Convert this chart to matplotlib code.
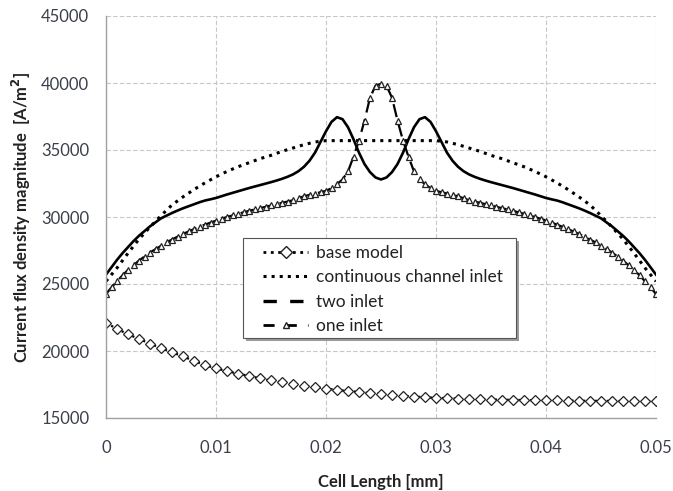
import matplotlib
matplotlib.use("Agg")
import matplotlib.pyplot as plt
from matplotlib.lines import Line2D
from matplotlib.patches import Rectangle
import numpy as np

# base model, step 0.001 mm
x_base = np.round(np.arange(0, 51) * 0.001, 4)
base_model = [22100, 21650, 21250, 20900, 20550, 20200, 19900, 19600, 19250, 18950,
              18700, 18500, 18300, 18150, 17950, 17800, 17650, 17550, 17400, 17300,
              17200, 17100, 17000, 16950, 16850, 16800, 16750, 16650, 16600, 16550,
              16500, 16480, 16450, 16420, 16400, 16380, 16370, 16350, 16340, 16330,
              16320, 16310, 16300, 16290, 16280, 16280, 16270, 16270, 16260, 16260,
              16250]

# continuous channel inlet, step 0.001 mm
continuous = [25200, 26200, 27300, 28350, 29250, 30100, 30900, 31500, 32050, 32550,
              33000, 33400, 33750, 34050, 34350, 34600, 34900, 35150, 35400, 35600,
              35700, 35700, 35700, 35700, 35700, 35700, 35700, 35700, 35700, 35700,
              35700, 35600, 35400, 35150, 34900, 34600, 34350, 34050, 33750, 33400,
              33000, 32550, 32050, 31500, 30900, 30100, 29250, 28350, 27300, 26200,
              25200]

# two inlet / one inlet, step 0.0005 mm
x_fine = np.round(np.arange(0, 101) * 0.0005, 5)
two_inlet = [25700, 26250, 26800, 27300, 27750, 28200, 28600, 28950, 29300, 29600,
             29900, 30100, 30300, 30480, 30650, 30800, 30950, 31100, 31230, 31320,
             31420, 31550, 31680, 31800, 31920, 32040, 32160, 32270, 32380, 32490,
             32600, 32720, 32850, 33000, 33180, 33420, 33750, 34200, 34800, 35600,
             36400, 37100, 37450, 37300, 36700, 35800, 34800, 33950, 33350, 32950,
             32800,
             32950, 33350, 33950, 34800, 35800, 36700, 37300, 37450, 37100, 36400,
             35600, 34800, 34200, 33750, 33420, 33180, 33000, 32850, 32720, 32600,
             32490, 32380, 32270, 32160, 32040, 31920, 31800, 31680, 31550, 31420,
             31320, 31230, 31100, 30950, 30800, 30650, 30480, 30300, 30100, 29900,
             29600, 29300, 28950, 28600, 28200, 27750, 27300, 26800, 26250, 25700]
one_inlet = [24250, 24750, 25200, 25650, 26050, 26400, 26750, 27050, 27350, 27600,
             27850, 28100, 28320, 28530, 28730, 28920, 29100, 29270, 29430, 29580,
             29730, 29870, 30000, 30120, 30240, 30350, 30460, 30560, 30660, 30760,
             30860, 30960, 31060, 31150, 31250, 31400, 31550, 31650, 31750, 31850,
             31950, 32150, 32450, 32800, 33400, 34500, 35700, 37200, 38900, 39800,
             39950,
             39800, 38900, 37200, 35700, 34500, 33400, 32800, 32450, 32150, 31950,
             31850, 31750, 31650, 31550, 31400, 31250, 31150, 31060, 30960, 30860,
             30760, 30660, 30560, 30460, 30350, 30240, 30120, 30000, 29870, 29730,
             29580, 29430, 29270, 29100, 28920, 28730, 28530, 28320, 28100, 27850,
             27600, 27350, 27050, 26750, 26400, 26050, 25650, 25200, 24750, 24250]

x_ticks = [0, 0.01, 0.02, 0.03, 0.04, 0.05]
x_tick_labels = ["0", "0.01", "0.02", "0.03", "0.04", "0.05"]
y_ticks = [15000, 20000, 25000, 30000, 35000, 40000, 45000]

plt.rcParams['font.family'] = ['Lato', 'DejaVu Sans']
txt_col = '#3a3f4a'

fig = plt.figure(figsize=(6.73, 4.91), dpi=100)
ax = fig.add_axes([106 / 673, 73 / 491, 550 / 673, 402 / 491])

ax.plot(x_base, base_model, color='black', linestyle=':', linewidth=1.6,
        marker='D', markersize=5.5, markerfacecolor='white', markeredgecolor='#222222',
        markeredgewidth=0.9)
ax.plot(x_base, continuous, color='black', linestyle=':', linewidth=2.2)
ax.plot(x_fine, two_inlet, color='black', linestyle='-', linewidth=1.9)
ax.plot(x_fine, one_inlet, color='black', linestyle=(0, (6, 3)), linewidth=1.6,
        marker='^', markersize=4.5, markerfacecolor='white', markeredgecolor='#222222',
        markeredgewidth=0.9)

ax.set_xlim(0, 0.05)
ax.set_ylim(15000, 45000)
ax.set_xticks(x_ticks)
ax.set_xticklabels(x_tick_labels)
ax.set_yticks(y_ticks)
ax.tick_params(length=0, labelsize=12, colors=txt_col)
ax.tick_params(axis='x', pad=15.5)
ax.tick_params(axis='y', pad=12)
ax.grid(True, color='#c8c8c8', linestyle=(0, (4, 2)), linewidth=0.8)
ax.set_axisbelow(True)
for s in ['top', 'right']:
    ax.spines[s].set_visible(False)
for s in ['left', 'bottom']:
    ax.spines[s].set_color('#a0a0a0')
    ax.spines[s].set_linewidth(1.0)

ax.set_xlabel('Cell Length [mm]', fontsize=12, fontweight='bold', color='#222222',
              va='center')
ax.xaxis.set_label_coords(0.5, -(482 - 418) / 402)
ax.set_ylabel('Current flux density magnitude  [A/m$^\\mathbf{2}$]', fontsize=12,
              fontweight='bold', color='#222222', va='center')
ax.yaxis.set_label_coords(-(106 - 21) / 550, 0.5)

# legend box with shadow, drawn separately so the handles sit indented like the original
fx0, fx1 = (243 - 106) / 550, (516 - 106) / 550
fy0, fy1 = (418 - 338) / 402, (418 - 238) / 402
ax.add_patch(Rectangle((fx0 + 3 / 550, fy0 - 3 / 402), fx1 - fx0, fy1 - fy0,
                       transform=ax.transAxes, facecolor='#9a9a9a', edgecolor='none',
                       zorder=4, clip_on=False))
ax.add_patch(Rectangle((fx0, fy0), fx1 - fx0, fy1 - fy0, transform=ax.transAxes,
                       facecolor='white', edgecolor='#555555', linewidth=0.8,
                       zorder=4.5, clip_on=False))

# legend handles (two inlet shown dashed as in the original chart)
handles = [
    Line2D([], [], color='black', linestyle=':', linewidth=2.0, marker='D',
           markersize=6, markerfacecolor='white', markeredgecolor='#222222'),
    Line2D([], [], color='black', linestyle=':', linewidth=2.2),
    Line2D([], [], color='black', linestyle=(0, (4, 4)), linewidth=2.4),
    Line2D([], [], color='black', linestyle=(0, (4, 4)), linewidth=2.0, marker='^',
           markersize=5, markerfacecolor='white', markeredgecolor='#222222'),
]
labels = ['base model', 'continuous channel inlet', 'two inlet', 'one inlet']
leg = ax.legend(handles, labels, loc='upper left',
                bbox_to_anchor=((263 - 106) / 550, (418 - 245) / 402),
                fontsize=12.5, frameon=False, handlelength=2.6, handletextpad=0.45,
                borderpad=0, labelspacing=0.48, borderaxespad=0)
leg.set_zorder(5)
for t in leg.get_texts():
    t.set_color('#222222')

fig.savefig('out.png', dpi=100)
